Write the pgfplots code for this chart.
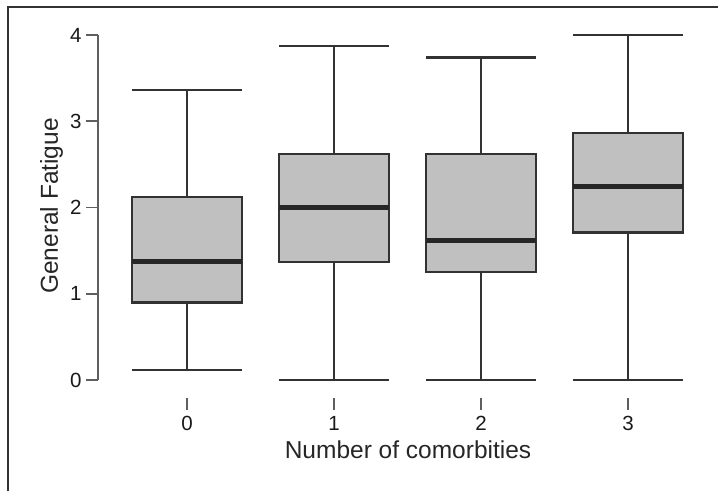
\documentclass[border=0pt]{standalone}
\usepackage{pgfplots}
\pgfplotsset{compat=1.18}
\usepgfplotslibrary{statistics}
\usepackage{fontspec}
\setmainfont{Liberation Sans}
\definecolor{boxgray}{RGB}{192,192,192}
\definecolor{boxline}{RGB}{50,50,50}
\definecolor{axgray}{RGB}{95,95,95}
\begin{document}
\begin{tikzpicture}
\useasboundingbox (0pt,0pt) rectangle (718pt,491pt);
\draw[line width=1.4pt, color=black!80] (8pt,0pt) -- (8pt,484pt) -- (718pt,484pt);
\begin{axis}[
  at={(98pt,93pt)}, anchor=south west,
  scale only axis, width=603.5pt, height=363pt,
  xmin=-0.6054, xmax=3.5, ymin=-0.2087, ymax=4,
  clip=false,
  axis line style={draw=none},
  axis x line=bottom, axis y line=left,
  tick align=outside, major tick length=12pt,
  xtick={0,1,2,3}, ytick={0,1,2,3,4},
  every tick/.style={color=axgray, line width=1.5pt},
  tick label style={font=\fontsize{20.5}{20.5}\selectfont, color=black!90},
  xticklabel style={yshift=-3pt},
  yticklabel style={xshift=-1pt},
  /pgf/number format/assume math mode=true,
  xlabel={Number of comorbities},
  ylabel={General Fatigue},
  label style={font=\fontsize{24.5}{24.5}\selectfont, color=black!85},
  xlabel style={at={(axis description cs:0.5137,-0.168)}, anchor=base},
  ylabel style={at={(axis description cs:-0.0663,0.529)}, anchor=base, rotate=0},
  boxplot/draw direction=y,
  boxplot/every median/.style={line width=4.8pt, draw=black!85},
]
\draw[color=axgray, line width=1.5pt] (axis cs:-0.6054,0) -- (axis cs:-0.6054,4);
\addplot[boxplot prepared={draw position=0, lower whisker=0.116, lower quartile=0.90, median=1.37, upper quartile=2.12, upper whisker=3.36, box extend=0.75, whisker extend=0.75}, draw=boxline, fill=boxgray, line width=2.4pt] coordinates {};
\addplot[boxplot prepared={draw position=1, lower whisker=0, lower quartile=1.37, median=2.0, upper quartile=2.62, upper whisker=3.87, box extend=0.75, whisker extend=0.75}, draw=boxline, fill=boxgray, line width=2.4pt] coordinates {};
\addplot[boxplot prepared={draw position=2, lower whisker=0, lower quartile=1.25, median=1.615, upper quartile=2.62, upper whisker=3.74, box extend=0.75, whisker extend=0.75}, draw=boxline, fill=boxgray, line width=2.4pt] coordinates {};
\addplot[boxplot prepared={draw position=3, lower whisker=0, lower quartile=1.71, median=2.24, upper quartile=2.867, upper whisker=4.0, box extend=0.75, whisker extend=0.75}, draw=boxline, fill=boxgray, line width=2.4pt] coordinates {};
\end{axis}
\end{tikzpicture}
\end{document}
